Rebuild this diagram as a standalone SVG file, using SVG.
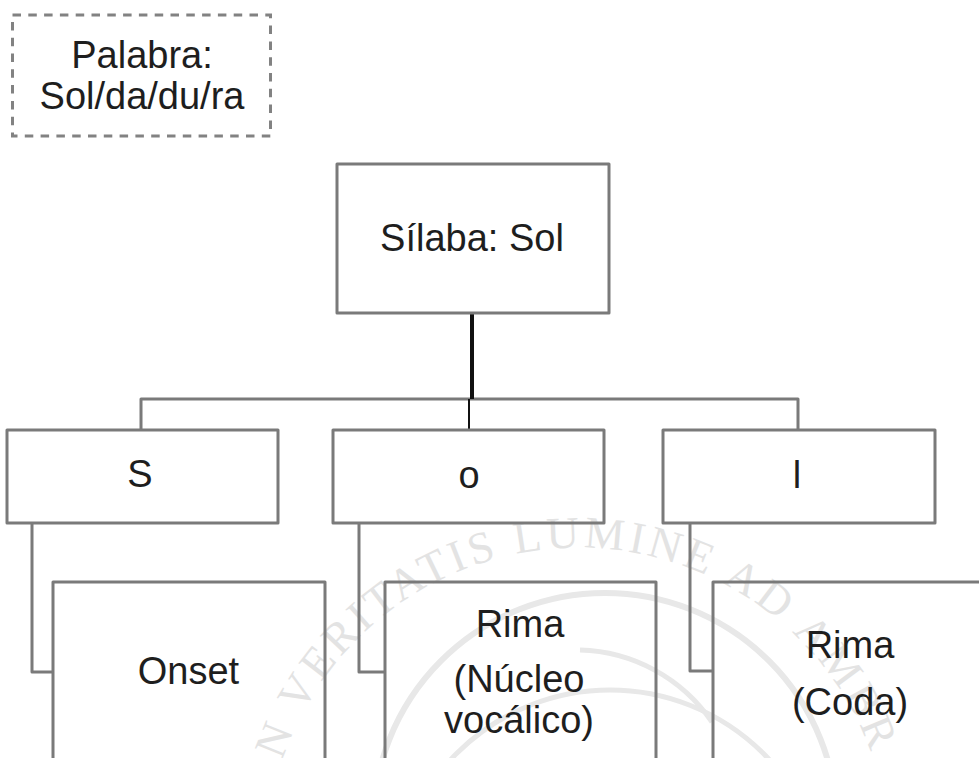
<svg xmlns="http://www.w3.org/2000/svg" width="979" height="758" viewBox="0 0 979 758">
<style>
.box{fill:none;stroke:#7a7a7a;stroke-width:3;stroke-linejoin:round}
.dash{fill:none;stroke:#828282;stroke-width:3;stroke-dasharray:8.5 7.3}
.lbl{font-family:"Liberation Sans",Arial,sans-serif;font-size:38px;fill:#1e1e1e;text-anchor:middle}
.conn{fill:none;stroke:#7a7a7a;stroke-width:3;stroke-linejoin:round}
.wm{fill:none;stroke:#e8e8e8}
.wmt{font-family:"Liberation Serif","Times New Roman",serif;font-size:45px;fill:#e3e3e3;letter-spacing:4px}
</style>
<defs>
<path id="seal" d="M 282.3 760.5 A 312 312 0 0 1 885.3 914.2"/>
</defs>
<rect width="979" height="758" fill="#ffffff"/>
<g id="watermark">
<text class="wmt"><textPath href="#seal">N VERITATIS LUMINE AD AMBR</textPath></text>
<circle class="wm" cx="605" cy="825" r="232" stroke-width="6"/>
<circle class="wm" cx="610" cy="907" r="217" stroke-width="5"/>
<path class="wm" stroke-width="5" d="M 580 650 A 165 165 0 0 1 712 722"/>
</g>
<g id="connectors">
<path class="conn" d="M 141 430 V 399 H 798 V 430"/>
<path fill="none" stroke="#111" stroke-width="4" d="M 472 314 V 399"/>
<path fill="none" stroke="#111" stroke-width="2" d="M 469 399 V 430"/>
<path class="conn" d="M 32 523 V 672 H 53"/>
<path class="conn" d="M 359 523 V 672 H 385"/>
<path class="conn" d="M 690 523 V 671 H 713"/>
</g>
<g id="palabra">
<rect class="dash" x="12.5" y="15" width="258" height="121"/>
<text class="lbl" x="142" y="68">Palabra:</text>
<text class="lbl" x="142" y="109">Sol/da/du/ra</text>
</g>
<g id="silaba">
<rect class="box" x="337" y="164" width="272" height="149"/>
<text class="lbl" x="472" y="251">Sílaba: Sol</text>
</g>
<g id="s">
<rect class="box" x="7" y="430" width="271" height="93"/>
<text class="lbl" x="140" y="487">S</text>
</g>
<g id="o">
<rect class="box" x="333" y="430" width="271" height="93"/>
<text class="lbl" x="469" y="488">o</text>
</g>
<g id="l">
<rect class="box" x="663" y="430" width="272" height="93"/>
<text class="lbl" x="797" y="488">l</text>
</g>
<g id="onset">
<rect class="box" x="53" y="582" width="272" height="200"/>
<text class="lbl" x="188.5" y="684">Onset</text>
</g>
<g id="rima-nucleo">
<rect class="box" x="385" y="582" width="271" height="200"/>
<text class="lbl" x="520" y="637">Rima</text>
<text class="lbl" x="519" y="692">(Núcleo</text>
<text class="lbl" x="519" y="733">vocálico)</text>
</g>
<g id="rima-coda">
<rect class="box" x="713" y="582" width="300" height="200"/>
<text class="lbl" x="850" y="658">Rima</text>
<text class="lbl" x="850" y="715">(Coda)</text>
</g>
</svg>
